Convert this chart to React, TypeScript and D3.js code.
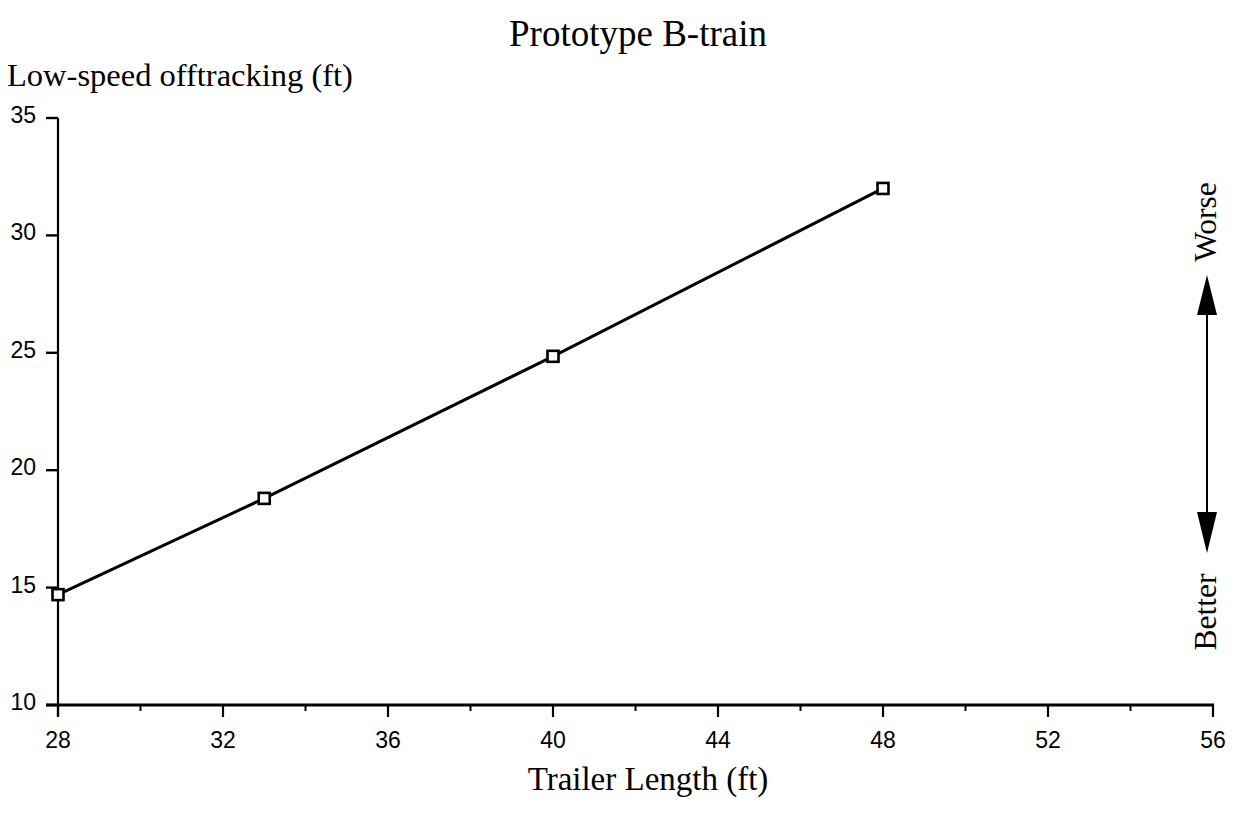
import React from "react";
import * as d3 from "d3";

const trailerLength = [28, 33, 40, 48];
const offtracking = [14.7, 18.8, 24.85, 32.0];
const xTicks = [28, 32, 36, 40, 44, 48, 52, 56];
const xMinorTicks = [30, 34, 38, 42, 46, 50, 54];
const yTicks = [10, 15, 20, 25, 30, 35];

export default function App() {
  const W = 1237, H = 825;
  const x = d3.scaleLinear().domain([28, 56]).range([58, 1213]);
  const y = d3.scaleLinear().domain([10, 35]).range([705, 118]);
  const line = d3.line<number>().x((_, i) => x(trailerLength[i])).y((d) => y(d));
  const pathD = line(offtracking) || "";
  const serif = "'Liberation Serif', 'Times New Roman', serif";
  const sans = "'Liberation Sans', Arial, sans-serif";
  const ax = 1207;
  return (
    <svg width={W} height={H} style={{ position: "absolute", left: 0, top: 0, background: "#fff" }}>
      <text x={638} y={46} textAnchor="middle" fontFamily={serif} fontSize={37}>Prototype B-train</text>
      <text x={7} y={86} fontFamily={serif} fontSize={32.5}>Low-speed offtracking (ft)</text>
      <text x={648} y={790} textAnchor="middle" fontFamily={serif} fontSize={33}>Trailer Length (ft)</text>
      {/* axes */}
      <line x1={x(28)} x2={x(28)} y1={y(35)} y2={y(10) + 12} stroke="#000" strokeWidth={2.2} />
      <line x1={x(28) - 12} x2={x(56) + 1} y1={y(10)} y2={y(10)} stroke="#000" strokeWidth={2.8} />
      {yTicks.map((t) => (
        <g key={"y" + t}>
          <line x1={x(28) - 12} x2={x(28)} y1={y(t)} y2={y(t)} stroke="#000" strokeWidth={2.4} />
          <text x={36} y={y(t) - 3} dy="0.35em" textAnchor="end" fontFamily={sans} fontSize={23}>{t}</text>
        </g>
      ))}
      {xTicks.map((t) => (
        <g key={"x" + t}>
          <line x1={x(t)} x2={x(t)} y1={y(10)} y2={y(10) + 12} stroke="#000" strokeWidth={2.2} />
          <text x={x(t)} y={y(10) + 35} dy="0.35em" textAnchor="middle" fontFamily={sans} fontSize={23}>{t}</text>
        </g>
      ))}
      {xMinorTicks.map((t) => (
        <line key={"m" + t} x1={x(t)} x2={x(t)} y1={y(10)} y2={y(10) + 6} stroke="#000" strokeWidth={2} />
      ))}
      <path d={pathD} fill="none" stroke="#000" strokeWidth={3} />
      {offtracking.map((v, i) => (
        <rect key={"p" + i} x={x(trailerLength[i]) - 5.5} y={y(v) - 5.5} width={11} height={11} fill="#fff" stroke="#000" strokeWidth={2.6} />
      ))}
      {/* better / worse arrow */}
      <line x1={ax} x2={ax} y1={312} y2={515} stroke="#000" strokeWidth={2} />
      <path d={`M${ax},275 L${ax - 10},315 L${ax + 10},315 Z`} fill="#000" />
      <path d={`M${ax},553 L${ax - 10},512 L${ax + 10},512 Z`} fill="#000" />
      <text transform={`translate(${ax + 9},${222}) rotate(-90)`} textAnchor="middle" fontFamily={serif} fontSize={31.5}>Worse</text>
      <text transform={`translate(${ax + 9},${612}) rotate(-90)`} textAnchor="middle" fontFamily={serif} fontSize={31.5}>Better</text>
    </svg>
  );
}
